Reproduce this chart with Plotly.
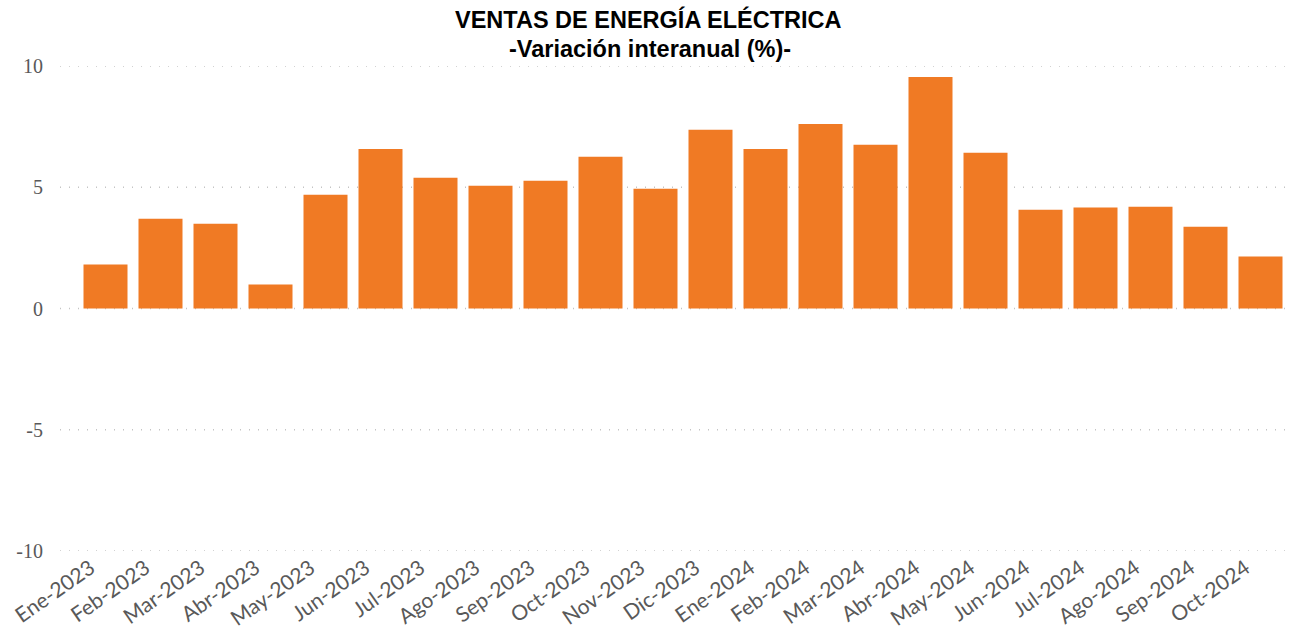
import plotly.graph_objects as go

categories = ["Ene-2023", "Feb-2023", "Mar-2023", "Abr-2023", "May-2023", "Jun-2023",
              "Jul-2023", "Ago-2023", "Sep-2023", "Oct-2023", "Nov-2023", "Dic-2023",
              "Ene-2024", "Feb-2024", "Mar-2024", "Abr-2024", "May-2024", "Jun-2024",
              "Jul-2024", "Ago-2024", "Sep-2024", "Oct-2024"]
values = [1.81, 3.70, 3.50, 0.99, 4.69, 6.58, 5.39, 5.06, 5.27, 6.26, 4.94, 7.37,
          6.58, 7.61, 6.75, 9.55, 6.42, 4.07, 4.16, 4.20, 3.37, 2.14]
y_ticks = [-10, -5, 0, 5, 10]
y_tick_labels = ["-10", "-5", "0", "5", "10"]

L, R, T, B = 78, 9, 66, 79
W, H = 1297, 630
pw, ph = W - L - R, H - T - B

fig = go.Figure(go.Bar(x=categories, y=values, marker=dict(color="#F07A24", line=dict(width=0))))

# dotted gridlines extending slightly left of the bars area
for v in y_ticks:
    fig.add_shape(type="line", xref="paper", yref="y", x0=(60 - L) / pw, x1=(1285 - L) / pw,
                  y0=v, y1=v, line=dict(color="#c4c4c4", width=1.3, dash="1px,8px"), layer="below")

fig.add_annotation(text="<b>VENTAS DE ENERGÍA ELÉCTRICA</b>", xref="paper", yref="paper",
                   x=(648 - L) / pw, y=(H - B - 20) / ph, xanchor="center", yanchor="middle",
                   showarrow=False, font=dict(family="Liberation Sans, Arial", size=23.5, color="black"))
fig.add_annotation(text="<b>-Variación interanual (%)-</b>", xref="paper", yref="paper",
                   x=(650 - L) / pw, y=(H - B - 49) / ph, xanchor="center", yanchor="middle",
                   showarrow=False, font=dict(family="Liberation Sans, Arial", size=23.5, color="black"))

fig.update_layout(
    width=W, height=H,
    paper_bgcolor="white", plot_bgcolor="white",
    margin=dict(l=L, r=R, t=T, b=B),
    bargap=0.2,
    showlegend=False,
)
fig.update_yaxes(range=[-10, 10], tickvals=y_ticks, ticktext=y_tick_labels, showgrid=False,
                 zeroline=False, showline=False, automargin=False,
                 tickfont=dict(family="Liberation Serif, Times New Roman", size=20, color="#595959"),
                 ticks="", ticklabelstandoff=34)
fig.update_xaxes(tickangle=-35, showgrid=False, showline=False, ticks="", automargin=False,
                 ticklabelshift=-15,
                 tickfont=dict(family="Lato, Open Sans", size=21, color="#595959"))

fig.write_html("out.html", config={"displayModeBar": False},
               post_script="document.body.style.margin='0';document.body.style.padding='0';")
